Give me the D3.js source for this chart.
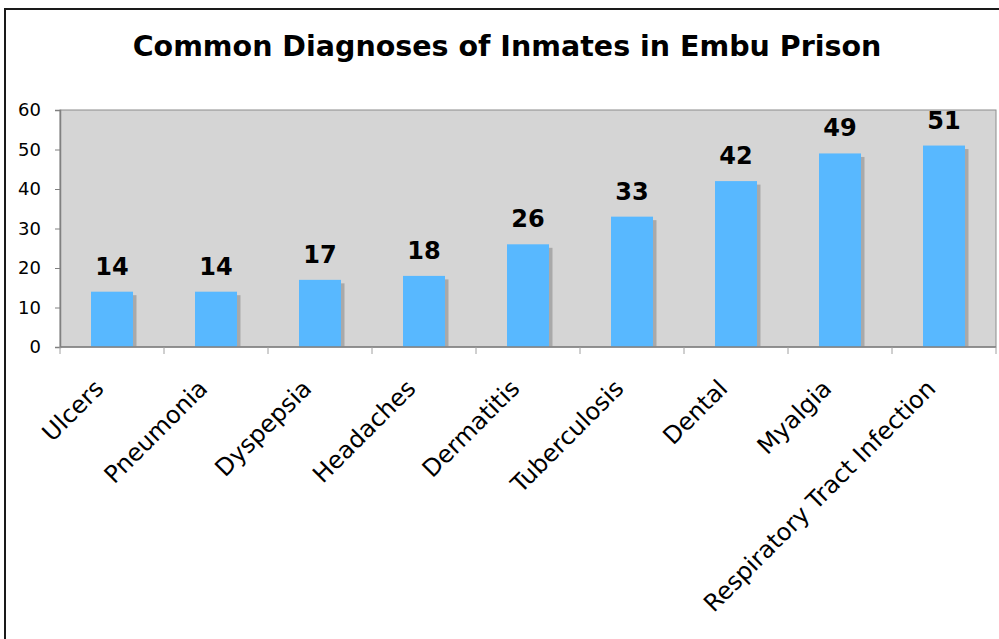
<!DOCTYPE html>
<html>
<head>
<meta charset="utf-8">
<script src="https://cdn.jsdelivr.net/npm/d3@7"></script>
<style>
  body { margin: 0; background: #fff; }
  text { font-family: "DejaVu Sans", Verdana, sans-serif; }
</style>
</head>
<body>
<div id="chart"></div>
<script>
// datos del grafico
var categories = ["Ulcers", "Pneumonia", "Dyspepsia", "Headaches", "Dermatitis",
  "Tuberculosis", "Dental", "Myalgia", "Respiratory Tract Infection"];
var values = [14, 14, 17, 18, 26, 33, 42, 49, 51];
var yTicks = [0, 10, 20, 30, 40, 50, 60];
var chartTitle = "Common Diagnoses of Inmates in Embu Prison";

var width = 999;
var height = 639;
var plot = { left: 60, top: 110, right: 996, bottom: 347 };

var svg = d3.select("#chart")
  .append("svg")
  .attr("width", width)
  .attr("height", height);

// marco exterior
svg.append("rect")
  .attr("x", 5)
  .attr("y", 9)
  .attr("width", 1100)
  .attr("height", 800)
  .attr("fill", "none")
  .attr("stroke", "#1a1a1a")
  .attr("stroke-width", 2);

svg.append("text")
  .attr("x", 507)
  .attr("y", 56)
  .attr("text-anchor", "middle")
  .attr("font-size", 28.5)
  .attr("font-weight", "bold")
  .text(chartTitle);

var x = d3.scaleBand()
  .domain(categories)
  .range([plot.left, plot.right])
  .paddingInner(0)
  .paddingOuter(0);

var y = d3.scaleLinear()
  .domain([0, 60])
  .range([plot.bottom, plot.top]);

// fondo del area de trazado
svg.append("rect")
  .attr("x", plot.left)
  .attr("y", plot.top)
  .attr("width", plot.right - plot.left)
  .attr("height", plot.bottom - plot.top)
  .attr("fill", "#d5d5d5")
  .attr("stroke", "#8c8c8c")
  .attr("stroke-width", 1);

var barW = 42;
var data = categories.map(function (c, i) { return { name: c, value: values[i] }; });

// sombras
svg.append("g")
  .selectAll("rect")
  .data(data)
  .enter()
  .append("rect")
  .attr("x", function (d) { return x(d.name) + (x.bandwidth() - barW) / 2 + 3.5; })
  .attr("y", function (d) { return y(d.value) + 3.5; })
  .attr("width", barW)
  .attr("height", function (d) { return plot.bottom - y(d.value) - 3.5; })
  .attr("fill", "#a9a9a9");

// barras
svg.append("g")
  .selectAll("rect")
  .data(data)
  .enter()
  .append("rect")
  .attr("x", function (d) { return x(d.name) + (x.bandwidth() - barW) / 2; })
  .attr("y", function (d) { return y(d.value); })
  .attr("width", barW)
  .attr("height", function (d) { return plot.bottom - y(d.value); })
  .attr("fill", "#58b8ff");

// etiquetas de valor
svg.append("g")
  .selectAll("text")
  .data(data)
  .enter()
  .append("text")
  .attr("x", function (d) { return x(d.name) + x.bandwidth() / 2; })
  .attr("y", function (d) { return y(d.value) - 17; })
  .attr("text-anchor", "middle")
  .attr("font-size", 24)
  .attr("font-weight", "bold")
  .text(function (d) { return d.value; });

// eje y
var yAxis = svg.append("g")
  .attr("transform", "translate(" + plot.left + ",0)")
  .call(d3.axisLeft(y).tickValues(yTicks).tickSize(5).tickPadding(14));
yAxis.select(".domain").attr("stroke", "#808080").attr("stroke-width", 1.5);
yAxis.selectAll(".tick line").attr("stroke", "#808080");
yAxis.selectAll("text")
  .attr("font-size", 18)
  .attr("font-family", "DejaVu Sans, Verdana, sans-serif")
  .attr("fill", "#000");

// eje x
var xTickPos = categories.map(function (c) { return x(c); }).concat([plot.right]);
var xAxis = svg.append("g")
  .attr("transform", "translate(0," + plot.bottom + ")");
xAxis.append("line")
  .attr("x1", plot.left)
  .attr("x2", plot.right)
  .attr("stroke", "#808080")
  .attr("stroke-width", 1.5);
xAxis.selectAll(".xtick")
  .data(xTickPos)
  .enter()
  .append("line")
  .attr("class", "xtick")
  .attr("x1", function (d) { return d; })
  .attr("x2", function (d) { return d; })
  .attr("y1", 0)
  .attr("y2", 7)
  .attr("stroke", "#a0a0a0");

svg.append("g")
  .selectAll("text")
  .data(categories)
  .enter()
  .append("text")
  .attr("transform", function (d) {
    return "translate(" + (x(d) + x.bandwidth() / 2 - 7) + ",390) rotate(-45)";
  })
  .attr("text-anchor", "end")
  .attr("font-size", 24)
  .text(function (d) { return d; });
</script>
</body>
</html>
